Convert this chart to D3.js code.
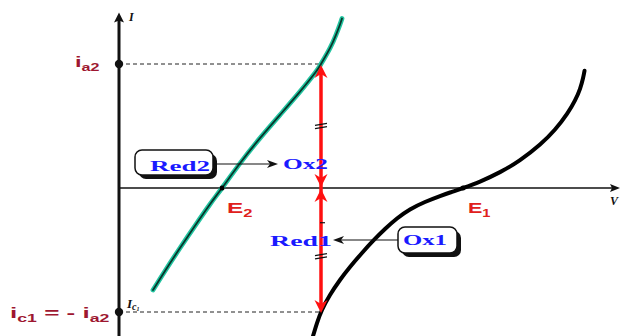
<!DOCTYPE html>
<html><head><meta charset="utf-8">
<script src="https://cdn.jsdelivr.net/npm/d3@7"></script>
<style>html,body{margin:0;padding:0;background:#fff;overflow:hidden}</style>
</head><body><svg id="chart" width="622" height="336"></svg>
<script>
// Current–potential curves of two redox couples (arbitrary units: V on x, I on y)
const red2Ox2Curve = [[6.8,-0.823],[9.2,-0.669],[12.2,-0.484],[15.2,-0.305],[18.2,-0.131],[20.6,0],[24.2,0.199],[28.2,0.402],[32.2,0.590],[36.2,0.777],[39.2,0.927],[40.4,1.0],[42.2,1.128],[43.4,1.235],[44.2,1.319],[44.6,1.367]];
const ox1Red1Curve = [[38.8,-1.194],[39.6,-1.089],[40.6,-0.984],[42.2,-0.863],[44.2,-0.742],[46.2,-0.637],[48.6,-0.524],[50.8,-0.427],[53.2,-0.331],[55.6,-0.246],[58.2,-0.173],[61.2,-0.113],[64.2,-0.065],[66.6,-0.031],[68.8,0],[72.2,0.052],[76.2,0.128],[80.2,0.225],[84.2,0.351],[87.2,0.472],[89.6,0.598],[91.2,0.707],[92.2,0.800],[92.8,0.885],[93.1,0.945]];
const equilibriumPotentials = [20.6, 68.8];
const equilibriumSubs = ["2", "1"];
const mixedPotential = 40.4;
const anodicCurrent = 1.0;     // i_a2
const cathodicCurrent = -1.0;  // i_c1 = -i_a2
const equalMarks = [0.5, -0.55];

const svg = d3.select("#chart");
const x = d3.scaleLinear().domain([0, 100]).range([119, 619]);
const y = d3.scaleLinear().domain([-1, 1]).range([312, 64]);

const maroon = "#9e1730", ered = "#e0201c", blue = "#1a1aff", red = "#ff1010";

// stretch a label group horizontally to a given width
function fit(g, x0, base, w) {
  const bb = g.node().getBBox();
  const s = w / bb.width;
  g.attr("transform", `translate(${x0 - bb.x * s},${base}) scale(${s},1)`);
}

// axes
svg.append("line").attr("x1", x(0)).attr("x2", x(99.4)).attr("y1", y(0)).attr("y2", y(0))
  .attr("stroke", "#111").attr("stroke-width", 1.3);
svg.append("path").attr("d", `M${x(100.2)},${y(0)} L${x(98.2)},${y(0)-4} L${x(98.6)},${y(0)} L${x(98.2)},${y(0)+4}Z`).attr("fill", "#111");
svg.append("line").attr("x1", x(0)).attr("x2", x(0)).attr("y1", y(-1.3)).attr("y2", y(1.36))
  .attr("stroke", "#111").attr("stroke-width", 3);
svg.append("path").attr("d", `M${x(0)},${y(1.415)} L${x(0)-5},${y(1.415)+10} L${x(0)},${y(1.415)+8} L${x(0)+5},${y(1.415)+10}Z`).attr("fill", "#111");

// dashed current levels
[anodicCurrent, cathodicCurrent].forEach(c => {
  svg.append("line").attr("x1", x(0)).attr("x2", x(mixedPotential)).attr("y1", y(c)).attr("y2", y(c))
    .attr("stroke", "#222").attr("stroke-width", 1).attr("stroke-dasharray", "4,3");
});

const line = d3.line().x(d => x(d[0])).y(d => y(d[1])).curve(d3.curveNatural);

// Red2/Ox2 curve
svg.append("path").attr("d", line(red2Ox2Curve)).attr("fill", "none")
  .attr("stroke", "#22c4a0").attr("stroke-width", 4.8).attr("stroke-linecap", "round");
svg.append("path").attr("d", line(red2Ox2Curve)).attr("fill", "none")
  .attr("stroke", "#08352a").attr("stroke-width", 1.8).attr("stroke-linecap", "round");
// Ox1/Red1 curve
svg.append("path").attr("d", line(ox1Red1Curve)).attr("fill", "none")
  .attr("stroke", "#000").attr("stroke-width", 4).attr("stroke-linecap", "round");

// equilibrium points
equilibriumPotentials.forEach(v => svg.append("circle").attr("cx", x(v)).attr("cy", y(0)).attr("r", 2.5).attr("fill", "#000"));

// current dots on the I axis
[anodicCurrent, cathodicCurrent].forEach(c =>
  svg.append("circle").attr("cx", x(0)).attr("cy", y(c)).attr("r", 4.2).attr("fill", "#111"));

// red double arrows at the mixed potential
const xm = x(mixedPotential);
svg.append("line").attr("x1", xm).attr("x2", xm).attr("y1", y(anodicCurrent) + 6).attr("y2", y(cathodicCurrent) - 6)
  .attr("stroke", red).attr("stroke-width", 3.5);
function head(tipY, dir) { // dir -1 up, +1 down
  const b = tipY - dir * 13, n = tipY - dir * 9;
  return `M${xm},${tipY} L${xm - 6.5},${b} L${xm},${n} L${xm + 6.5},${b}Z`;
}
[[y(anodicCurrent) + 1, -1], [y(0) - 1, 1], [y(0) + 1, -1], [y(cathodicCurrent) + 1, 1]].forEach(([t, d]) =>
  svg.append("path").attr("d", head(t, d)).attr("fill", red));
equalMarks.forEach(c => {
  [-1.6, 1.6].forEach(o => svg.append("line").attr("x1", xm - 6).attr("x2", xm + 6)
    .attr("y1", y(c) + o + 1).attr("y2", y(c) + o - 1).attr("stroke", "#111").attr("stroke-width", 1.2));
});
svg.append("line").attr("x1", xm - 1).attr("x2", xm + 4).attr("y1", y(-0.28)).attr("y2", y(-0.28))
  .attr("stroke", "#111").attr("stroke-width", 1.2);

// boxes with shadow
function box(bx, by, w, h) {
  svg.append("rect").attr("x", bx + 4).attr("y", by + 4).attr("width", w).attr("height", h).attr("rx", 7).attr("fill", "#111");
  svg.append("rect").attr("x", bx).attr("y", by).attr("width", w).attr("height", h).attr("rx", 7)
    .attr("fill", "#fff").attr("stroke", "#111").attr("stroke-width", 1.5);
}
box(135, 150, 78, 25);
box(398, 227, 59, 26);

// black reaction arrows
function arrow(x1, x2, yy) {
  const d = Math.sign(x2 - x1);
  svg.append("line").attr("x1", x1).attr("x2", x2 - d * 6).attr("y1", yy).attr("y2", yy).attr("stroke", "#111").attr("stroke-width", 1.1);
  svg.append("path").attr("d", `M${x2},${yy} L${x2 - d * 11},${yy - 4} L${x2 - d * 8},${yy} L${x2 - d * 11},${yy + 4}Z`).attr("fill", "#111");
}
arrow(213, 278, 164);
arrow(398, 333, 240);

// serif species labels
function species(t, x0, base, w) {
  const g = svg.append("g");
  g.append("text").text(t).attr("font-family", "Liberation Serif, Times New Roman, serif")
    .attr("font-weight", "bold").attr("font-size", 15).attr("fill", blue);
  fit(g, x0, base, w);
}
species("Red2", 150, 171, 60);
species("Ox2", 283, 169, 45);
species("Red1", 270, 246, 62);
species("Ox1", 403, 245, 44);

// sans labels with subscripts
function subLabel(parts, x0, base, w, color, size) {
  const g = svg.append("g");
  const t = g.append("text").attr("font-family", "Liberation Sans, Arial, sans-serif").attr("font-weight", "bold").attr("fill", color);
  let shift = 0;
  parts.forEach(([s, sub]) => {
    const ts = t.append("tspan").text(s).attr("font-size", sub ? size * 0.68 : size);
    const want = sub ? 4 : 0;
    ts.attr("dy", want - shift); shift = want;
  });
  fit(g, x0, base, w);
}
subLabel([["i", 0], ["a2", 1]], 75, 67, 25, maroon, 15);
subLabel([["i", 0], ["c1", 1], [" = - i", 0], ["a2", 1]], 10, 318, 100, maroon, 15);
equilibriumPotentials.forEach((v, i) =>
  subLabel([["E", 0], [equilibriumSubs[i], 1]], x(v) + 5, 213, i === 0 ? 26 : 23, ered, 15));

// axis titles
svg.append("text").attr("x", 129).attr("y", 21).text("I").attr("font-family", "Liberation Serif, serif")
  .attr("font-style", "italic").attr("font-weight", "bold").attr("font-size", 12).attr("fill", "#111");
svg.append("text").attr("x", 610).attr("y", 205).text("V").attr("font-family", "Liberation Serif, serif")
  .attr("font-style", "italic").attr("font-weight", "bold").attr("font-size", 12).attr("fill", "#111");
const ic = svg.append("text").attr("x", 127).attr("y", 308).attr("font-family", "Liberation Serif, serif")
  .attr("font-style", "italic").attr("font-weight", "bold").attr("fill", "#111");
ic.append("tspan").text("I").attr("font-size", 13);
ic.append("tspan").text("c").attr("font-size", 10).attr("dy", 2);
ic.append("tspan").text("1").attr("font-size", 6).attr("dy", 1);
</script></body></html>
